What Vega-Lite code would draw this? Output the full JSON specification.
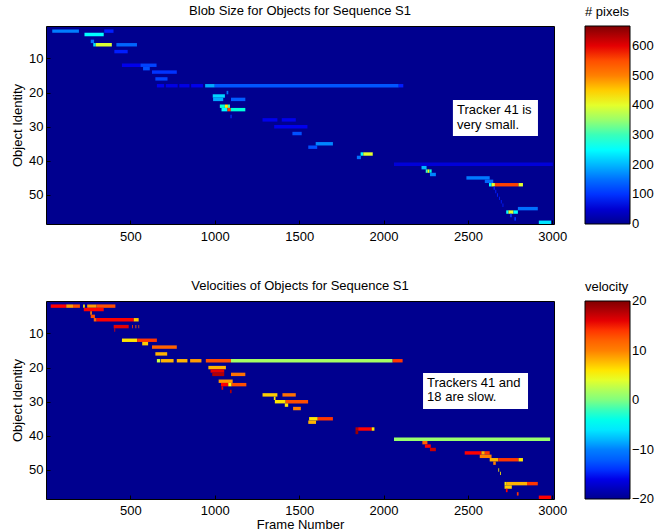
{
  "$schema": "https://vega.github.io/schema/vega-lite/v6.json",
  "padding": {"left": 11, "top": 4, "right": 0, "bottom": 0},
  "spacing": 35,
  "resolve": {"scale": {"color": "independent"}, "legend": {"color": "independent"}},
  "config": {
    "font": "Liberation Sans",
    "view": {"stroke": "black", "strokeWidth": 1, "fill": "#00008f"},
    "axis": {"domain": false, "grid": false, "tickColor": "black", "tickSize": -4, "labelColor": "black", "labelFontSize": 13, "titleFontSize": 13, "titleFontWeight": "normal", "titleColor": "black", "labelPadding": 10, "titlePadding": 1, "format": "d"},
    "axisY": {"labelPadding": 7, "titlePadding": 4},
    "title": {"fontSize": 13, "fontWeight": "normal", "color": "black", "offset": -12},
    "legend": {"titleFontSize": 13, "titleFontWeight": "normal", "labelFontSize": 13, "titleColor": "black", "labelColor": "black", "gradientStrokeColor": "black", "gradientStrokeWidth": 1, "titlePadding": 7, "labelOverlap": false, "labelBaseline": "middle", "labelOffset": 3}
  },
  "datasets": {
    "blob": [
      {"id":2,"s":37,"e":195,"v":165},{"id":2,"s":345,"e":400,"v":90},{"id":3,"s":228,"e":342,"v":250},{"id":5,"s":265,"e":285,"v":150},
      {"id":6,"s":280,"e":295,"v":230},{"id":6,"s":295,"e":390,"v":395},{"id":6,"s":417,"e":539,"v":140},{"id":8,"s":405,"e":484,"v":90},
      {"id":12,"s":450,"e":560,"v":70},{"id":12,"s":560,"e":655,"v":110},{"id":13,"s":575,"e":615,"v":120},{"id":14,"s":628,"e":775,"v":100},
      {"id":16,"s":648,"e":720,"v":110},{"id":18,"s":657,"e":700,"v":70},{"id":18,"s":710,"e":780,"v":65},{"id":18,"s":790,"e":850,"v":65},
      {"id":18,"s":860,"e":930,"v":70},{"id":18,"s":943,"e":1000,"v":190},{"id":18,"s":1000,"e":2090,"v":125},{"id":18,"s":2090,"e":2117,"v":90},
      {"id":20,"s":1070,"e":1080,"v":150},{"id":21,"s":988,"e":1060,"v":220},{"id":22,"s":990,"e":1050,"v":190},{"id":22,"s":1096,"e":1181,"v":130},
      {"id":24,"s":1030,"e":1060,"v":280},{"id":24,"s":1060,"e":1078,"v":430},{"id":24,"s":1078,"e":1090,"v":300},{"id":25,"s":1040,"e":1075,"v":250},
      {"id":25,"s":1075,"e":1095,"v":560},{"id":25,"s":1095,"e":1181,"v":280},{"id":27,"s":1093,"e":1100,"v":100},{"id":28,"s":1283,"e":1371,"v":70},
      {"id":28,"s":1397,"e":1480,"v":70},{"id":30,"s":1352,"e":1549,"v":70},{"id":32,"s":1460,"e":1515,"v":120},{"id":35,"s":1598,"e":1700,"v":170},
      {"id":36,"s":1554,"e":1607,"v":120},{"id":38,"s":1864,"e":1880,"v":250},{"id":38,"s":1880,"e":1936,"v":400},{"id":39,"s":1842,"e":1866,"v":150},
      {"id":41,"s":2062,"e":3003,"v":55},{"id":42,"s":2225,"e":2255,"v":200},{"id":43,"s":2250,"e":2262,"v":300},{"id":43,"s":2262,"e":2272,"v":420},
      {"id":43,"s":2272,"e":2285,"v":280},{"id":44,"s":2275,"e":2310,"v":170},{"id":45,"s":2491,"e":2629,"v":160},{"id":46,"s":2600,"e":2650,"v":140},
      {"id":47,"s":2625,"e":2640,"v":250},{"id":47,"s":2640,"e":2660,"v":400},{"id":47,"s":2660,"e":2800,"v":560},{"id":47,"s":2800,"e":2826,"v":400},
      {"id":48,"s":2652,"e":2660,"v":90},{"id":49,"s":2662,"e":2668,"v":90},{"id":50,"s":2672,"e":2678,"v":90},{"id":51,"s":2685,"e":2690,"v":90},
      {"id":52,"s":2695,"e":2700,"v":90},{"id":53,"s":2705,"e":2710,"v":90},{"id":54,"s":2796,"e":2914,"v":150},{"id":55,"s":2727,"e":2740,"v":250},
      {"id":55,"s":2740,"e":2770,"v":400},{"id":55,"s":2770,"e":2796,"v":250},{"id":56,"s":2750,"e":2760,"v":100},{"id":57,"s":2775,"e":2785,"v":100},
      {"id":58,"s":2920,"e":2993,"v":230}
    ],
    "vel": [
      {"id":2,"s":28,"e":120,"v":15},{"id":2,"s":120,"e":160,"v":9},{"id":2,"s":160,"e":201,"v":13},{"id":2,"s":220,"e":230,"v":6},
      {"id":2,"s":244,"e":300,"v":9},{"id":2,"s":300,"e":411,"v":13},{"id":3,"s":224,"e":342,"v":15},{"id":4,"s":262,"e":272,"v":10},
      {"id":5,"s":265,"e":290,"v":13},{"id":6,"s":283,"e":300,"v":12},{"id":6,"s":300,"e":520,"v":15},{"id":6,"s":520,"e":549,"v":7},
      {"id":8,"s":401,"e":490,"v":16},{"id":8,"s":510,"e":515,"v":14},{"id":8,"s":530,"e":535,"v":12},{"id":8,"s":548,"e":552,"v":12},
      {"id":9,"s":405,"e":410,"v":16},{"id":12,"s":450,"e":540,"v":6},{"id":12,"s":540,"e":657,"v":14},{"id":13,"s":570,"e":605,"v":7},
      {"id":14,"s":628,"e":775,"v":12},{"id":16,"s":648,"e":718,"v":8},{"id":18,"s":657,"e":677,"v":3},{"id":18,"s":681,"e":756,"v":8},
      {"id":18,"s":775,"e":838,"v":8},{"id":18,"s":854,"e":921,"v":9},{"id":18,"s":947,"e":1096,"v":13},{"id":18,"s":1096,"e":2054,"v":1.5},
      {"id":18,"s":2054,"e":2113,"v":14},{"id":20,"s":962,"e":1066,"v":8},{"id":21,"s":975,"e":1056,"v":16},{"id":22,"s":985,"e":1056,"v":18},
      {"id":22,"s":1096,"e":1181,"v":11},{"id":24,"s":1023,"e":1106,"v":9},{"id":25,"s":1037,"e":1080,"v":15},{"id":25,"s":1080,"e":1100,"v":5},
      {"id":25,"s":1100,"e":1187,"v":13},{"id":26,"s":1040,"e":1050,"v":16},{"id":27,"s":1090,"e":1100,"v":18},{"id":28,"s":1283,"e":1371,"v":7},
      {"id":28,"s":1401,"e":1480,"v":11},{"id":29,"s":1350,"e":1360,"v":6},{"id":30,"s":1356,"e":1420,"v":6},{"id":30,"s":1420,"e":1553,"v":13},
      {"id":31,"s":1415,"e":1435,"v":6},{"id":32,"s":1464,"e":1510,"v":10},{"id":35,"s":1559,"e":1610,"v":6},{"id":35,"s":1610,"e":1700,"v":14},
      {"id":36,"s":1554,"e":1600,"v":8},{"id":38,"s":1834,"e":1850,"v":18},{"id":38,"s":1850,"e":1930,"v":15},{"id":38,"s":1930,"e":1946,"v":6},
      {"id":39,"s":1834,"e":1850,"v":19},{"id":41,"s":2062,"e":2987,"v":1},{"id":42,"s":2230,"e":2260,"v":12},{"id":43,"s":2245,"e":2280,"v":15},
      {"id":44,"s":2275,"e":2310,"v":17},{"id":45,"s":2481,"e":2580,"v":15},{"id":45,"s":2580,"e":2600,"v":8},{"id":45,"s":2600,"e":2629,"v":14},
      {"id":46,"s":2570,"e":2640,"v":10},{"id":47,"s":2629,"e":2680,"v":8},{"id":47,"s":2680,"e":2800,"v":14},{"id":47,"s":2800,"e":2826,"v":6},
      {"id":48,"s":2650,"e":2665,"v":10},{"id":50,"s":2680,"e":2685,"v":6},{"id":51,"s":2690,"e":2695,"v":6},{"id":54,"s":2717,"e":2730,"v":6},
      {"id":54,"s":2730,"e":2850,"v":8},{"id":54,"s":2850,"e":2914,"v":14},{"id":55,"s":2717,"e":2760,"v":7},{"id":56,"s":2725,"e":2735,"v":15},
      {"id":57,"s":2790,"e":2800,"v":14},{"id":58,"s":2920,"e":2993,"v":15}
    ],
    "annTop": [{"x1":2411,"x2":2915,"y1":22.2,"y2":32.7,"tx":2435,"ty":23.35,"t":"Tracker 41 is\nvery small."}],
    "annBot": [{"x1":2234,"x2":2856,"y1":21.6,"y2":32.1,"tx":2258,"ty":22.76,"t":"Trackers 41 and\n18 are slow."}]
  },
  "vconcat": [
    {
      "title": "Blob Size for Objects for Sequence S1",
      "width": 508,
      "height": 198,
      "layer": [
        {
          "data": {"name": "blob"},
          "mark": {"type": "rect", "height": 3.42},
          "encoding": {
            "x": {"field": "s", "type": "quantitative", "scale": {"domain": [0, 3010], "nice": false, "zero": false}, "axis": {"values": [500, 1000, 1500, 2000, 2500, 3000], "title": null}},
            "x2": {"field": "e"},
            "y": {"field": "id", "type": "quantitative", "scale": {"domain": [0.5, 58.5], "reverse": true, "nice": false, "zero": false}, "axis": {"values": [10, 20, 30, 40, 50], "title": "Object Identity"}},
            "color": {
              "field": "v", "type": "quantitative",
              "scale": {"domain": [0, 83.375, 166.75, 250.125, 333.5, 416.875, 500.25, 583.625, 667], "range": ["#00008f", "#0000ff", "#0080ff", "#00ffff", "#80ff80", "#ffff00", "#ff8000", "#ff0000", "#800000"]},
              "legend": {"orient": "none", "legendX": 539, "legendY": -20, "title": "# pixels", "gradientLength": 198, "gradientThickness": 45, "direction": "vertical", "values": [0, 100, 200, 300, 400, 500, 600], "encode": {"labels": {"update": {"baseline": {"value": "middle"}}}}}
            }
          }
        },
        {
          "data": {"name": "annTop"},
          "mark": {"type": "rect", "fill": "white"},
          "encoding": {"x": {"field": "x1", "type": "quantitative"}, "x2": {"field": "x2"}, "y": {"field": "y1", "type": "quantitative"}, "y2": {"field": "y2"}}
        },
        {
          "data": {"name": "annTop"},
          "mark": {"type": "text", "align": "left", "baseline": "top", "fontSize": 13, "lineBreak": "\n", "lineHeight": 14.5, "color": "black"},
          "encoding": {"x": {"field": "tx", "type": "quantitative"}, "y": {"field": "ty", "type": "quantitative"}, "text": {"field": "t"}}
        }
      ]
    },
    {
      "title": "Velocities of Objects for Sequence S1",
      "width": 508,
      "height": 198,
      "layer": [
        {
          "data": {"name": "vel"},
          "mark": {"type": "rect", "height": 3.42},
          "encoding": {
            "x": {"field": "s", "type": "quantitative", "scale": {"domain": [0, 3010], "nice": false, "zero": false}, "axis": {"values": [500, 1000, 1500, 2000, 2500, 3000], "title": "Frame Number", "labelPadding": 9}},
            "x2": {"field": "e"},
            "y": {"field": "id", "type": "quantitative", "scale": {"domain": [0.5, 58.5], "reverse": true, "nice": false, "zero": false}, "axis": {"values": [10, 20, 30, 40, 50], "title": "Object Identity"}},
            "color": {
              "field": "v", "type": "quantitative",
              "scale": {"domain": [-20, -15, -10, -5, 0, 5, 10, 15, 20], "range": ["#00008f", "#0000ff", "#0080ff", "#00ffff", "#80ff80", "#ffff00", "#ff8000", "#ff0000", "#800000"]},
              "legend": {"orient": "none", "legendX": 539, "legendY": -20, "title": "velocity", "gradientLength": 198, "gradientThickness": 45, "direction": "vertical", "values": [-20, -10, 0, 10, 20], "encode": {"labels": {"update": {"baseline": {"value": "middle"}}}}}
            }
          }
        },
        {
          "data": {"name": "annBot"},
          "mark": {"type": "rect", "fill": "white"},
          "encoding": {"x": {"field": "x1", "type": "quantitative"}, "x2": {"field": "x2"}, "y": {"field": "y1", "type": "quantitative"}, "y2": {"field": "y2"}}
        },
        {
          "data": {"name": "annBot"},
          "mark": {"type": "text", "align": "left", "baseline": "top", "fontSize": 13, "lineBreak": "\n", "lineHeight": 14.5, "color": "black"},
          "encoding": {"x": {"field": "tx", "type": "quantitative"}, "y": {"field": "ty", "type": "quantitative"}, "text": {"field": "t"}}
        }
      ]
    }
  ]
}
